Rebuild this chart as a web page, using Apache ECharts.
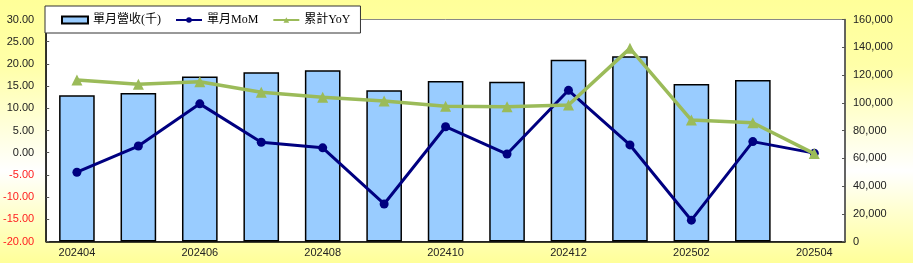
<!DOCTYPE html>
<html>
<head>
<meta charset="utf-8">
<script src="https://cdn.jsdelivr.net/npm/echarts@6/dist/echarts.min.js"></script>
<style>
html,body{margin:0;padding:0;}
body{width:913px;height:263px;background:linear-gradient(to bottom,#ffff99 0%,#ffffa8 25%,#ffffff 65%,#ffffd0 80%,#ffff99 100%);}
#chart{width:913px;height:263px;}
</style>
</head>
<body>
<div id="chart"></div>
<script>
const categories = ['202404','202405','202406','202407','202408','202409','202410','202411','202412','202501','202502','202503','202504'];
const revenue = [105400, 107000, 119000, 121900, 123400, 109000, 115700, 115200, 131000, 133500, 113500, 116400, null];
const mom = [-4.4, 1.5, 11.0, 2.35, 1.1, -11.55, 5.85, -0.3, 14.05, 1.75, -15.2, 2.5, -0.1];
const yoy = [16.4, 15.4, 16.0, 13.6, 12.5, 11.65, 10.45, 10.35, 10.75, 23.5, 7.35, 6.75, -0.2];
const seriesNames = ['單月營收(千)', '單月MoM', '累計YoY'];

const chart = echarts.init(document.getElementById('chart'), null, {renderer:'canvas'});
const sans = '"Liberation Sans", Arial, sans-serif';
chart.setOption({
  backgroundColor: 'transparent',
  animation: false,
  legend: {
    left: 45, top: 6,
    backgroundColor: '#ffffff',
    borderColor: '#333333', borderWidth: 1,
    padding: [8, 10, 7, 16],
    itemGap: 14, itemWidth: 26, itemHeight: 7,
    textStyle: {fontFamily: '"Liberation Serif", "Noto Sans CJK TC", serif', fontSize: 12, color: '#000'},
    data: [{name: seriesNames[0], icon: 'rect'}, {name: seriesNames[1]}, {name: seriesNames[2]}]
  },
  grid: {left: 45, right: 68, top: 19.5, bottom: 21.5, show: true, borderColor: '#888888', borderWidth: 1, backgroundColor: '#ffffff'},
  xAxis: {
    type: 'category', data: categories, boundaryGap: true,
    axisLine: {onZero: false, lineStyle: {color: '#000', width: 1.5}},
    axisTick: {inside: true, length: 3, interval: 0, lineStyle: {color: '#555'}},
    axisLabel: {interval: 1, fontFamily: sans, fontSize: 11, color: '#222', margin: 6}
  },
  yAxis: [{
    type: 'value', min: -20, max: 30, interval: 5, position: 'left',
    axisLine: {show: true, lineStyle: {color: '#000', width: 1.5}},
    axisTick: {show: true, inside: true, length: 3, lineStyle: {color: '#555'}},
    splitLine: {show: false},
    axisLabel: {fontFamily: sans, fontSize: 11, margin: 12,
      formatter: v => v.toFixed(2),
      color: v => (v < 0 ? '#ff2020' : '#222')}
  }, {
    type: 'value', min: 0, max: 160000, interval: 20000, position: 'right',
    axisLine: {show: true, lineStyle: {color: '#444', width: 1.5}},
    axisTick: {show: true, inside: true, length: 3, lineStyle: {color: '#555'}},
    splitLine: {show: false},
    axisLabel: {fontFamily: sans, fontSize: 11, color: '#222', margin: 8,
      formatter: v => v.toLocaleString('en-US')}
  }],
  series: [{
    name: seriesNames[0], type: 'bar', yAxisIndex: 1, data: revenue,
    barWidth: '58%',
    itemStyle: {color: '#99ccff', borderColor: '#000', borderWidth: 1.5}
  }, {
    name: seriesNames[1], type: 'line', yAxisIndex: 0, data: mom,
    symbol: 'circle', symbolSize: 9,
    lineStyle: {color: '#000080', width: 3},
    itemStyle: {color: '#000080'}, z: 3
  }, {
    name: seriesNames[2], type: 'line', yAxisIndex: 0, data: yoy,
    symbol: 'triangle', symbolSize: 11,
    lineStyle: {color: '#9bbb59', width: 3.5},
    itemStyle: {color: '#9bbb59'}, z: 4
  }]
});
</script>
</body>
</html>
